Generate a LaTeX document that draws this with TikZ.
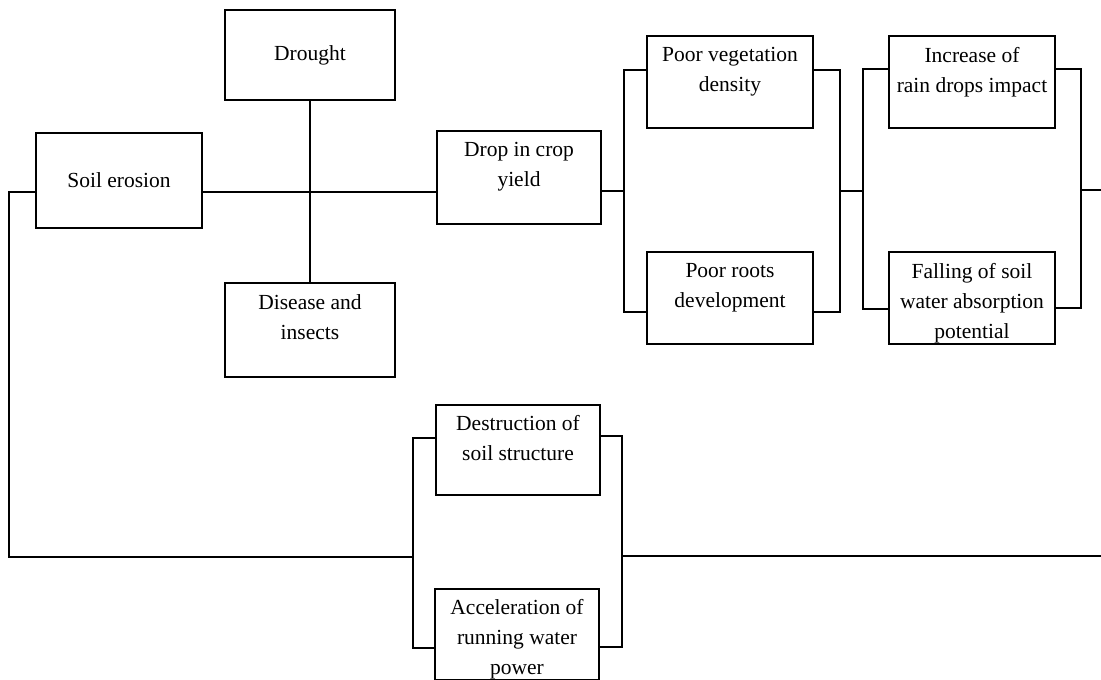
\documentclass[tikz,border=0pt]{standalone}
\usepackage{fontspec}
\setmainfont{Liberation Serif}
\usetikzlibrary{positioning,calc}
\newcommand{\toptext}[1]{\parbox[c][70pt][t]{164pt}{\centering #1}}

\begin{document}
\begin{tikzpicture}[x=1pt, y=-1pt, line width=1.7pt, main node/.style={rectangle,draw,line width=2pt,minimum width=166pt,minimum height=92pt,inner sep=0pt}]
\useasboundingbox (0,0) rectangle (1101,680);
\begin{scope}[every node/.style={font=\fontsize{21.5}{30}\selectfont}]
\node[main node, minimum width=170pt, minimum height=90pt] (drought) at (310,55) {Drought};
\node[main node, minimum height=95pt] (erosion) at (119,180) {Soil erosion};
\node[main node, minimum width=170pt, minimum height=94pt] (disease) at (310,330) {\toptext{Disease and\\insects}};
\node[main node, minimum width=162pt, minimum height=93pt] (yield) at (519,177) {\toptext{Drop in crop\\yield}};
\node[main node] (vegetation) at (730,82) {\toptext{Poor vegetation\\density}};
\node[main node] (roots) at (730,298) {\toptext{Poor roots\\development}};
\node[main node] (raindrops) at (972,82) {\toptext{Increase of\\rain drops impact}};
\node[main node] (absorption) at (972,298) {\toptext{Falling of soil\\water absorption\\potential}};
\node[main node, minimum width=162pt, minimum height=90pt] (structure) at (518,450) {\toptext{Destruction of\\soil structure}};
\node[main node, minimum width=162pt, minimum height=91pt] (waterpower) at (517,634) {\toptext{Acceleration of\\running water\\power}};
\end{scope}
\begin{scope}
\coordinate (cross) at (310,192);
\coordinate (j1) at (624,191);
\coordinate (j2) at (840,191);
\coordinate (j3) at (863,191);
\coordinate (j4) at (1081,190);
\coordinate (out1) at (1101,190);
\coordinate (corner) at (9,557);
\coordinate (j5) at (413,557);
\coordinate (j6) at (622,556);
\coordinate (out2) at (1101,556);
\draw (drought) edge (disease);
\draw (erosion.east |- cross) -- (yield.west |- cross);
\draw (yield.east |- j1) -- (j1);
\draw ([yshift=12pt]vegetation.west) -| (j1) |- ([yshift=-14pt]roots.west);
\draw ([yshift=12pt]vegetation.east) -| (j2) |- ([yshift=-14pt]roots.east);
\draw (j2) -- (j3);
\draw ([yshift=13pt]raindrops.west) -| (j3) |- ([yshift=-11pt]absorption.west);
\draw ([yshift=13pt]raindrops.east) -| (j4) |- ([yshift=-10pt]absorption.east);
\draw (j4) -- (out1);
\draw (erosion.west |- cross) -| (corner) -- (j5);
\draw ([yshift=12pt]structure.west) -| (j5) |- ([yshift=-14pt]waterpower.west);
\draw ([yshift=14pt]structure.east) -| (j6) |- ([yshift=-13pt]waterpower.east);
\draw (j6) -- (out2);
\end{scope}
\end{tikzpicture}
\end{document}
